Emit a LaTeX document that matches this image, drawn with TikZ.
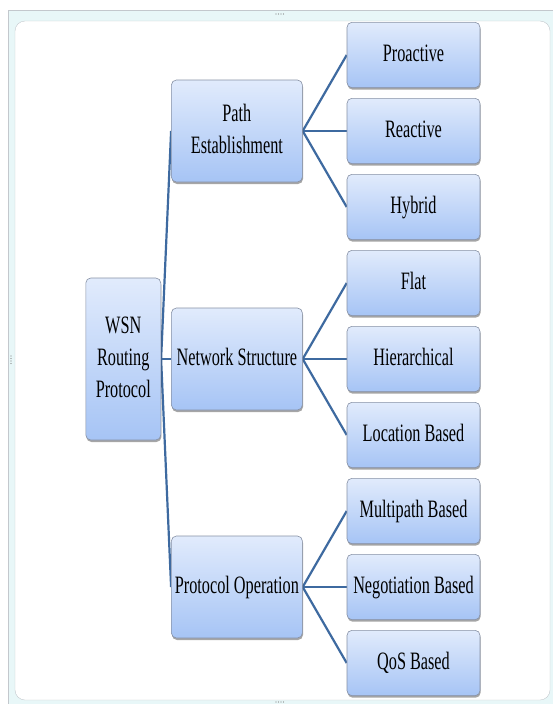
\documentclass[tikz,border=0pt]{standalone}
\usepackage{fontspec}
\setmainfont{Liberation Serif}
\usepackage{graphicx}
\usepackage{xcolor}
\usetikzlibrary{positioning,shadows,backgrounds}

\definecolor{boxtop}{RGB}{225,235,252}
\definecolor{boxbottom}{RGB}{166,196,245}
\definecolor{boxline}{RGB}{135,145,165}
\definecolor{linkblue}{RGB}{62,106,160}
\definecolor{framecyan}{RGB}{232,247,248}
\definecolor{framegray}{RGB}{195,200,205}

\newcommand{\narrow}[1]{\scalebox{0.65}[1]{\begin{tabular}{@{}c@{}}#1\end{tabular}}}

\tikzset{
  smartbox/.style={rectangle, rounded corners=5pt, draw=boxline, line width=0.6pt,
    top color=boxtop, bottom color=boxbottom, inner sep=1pt, align=center,
    drop shadow={shadow xshift=0.6pt, shadow yshift=-2pt, opacity=0.35, fill=black},
    font=\fontsize{25}{32}\selectfont},
  leaf/.style={smartbox, minimum width=133pt, minimum height=65.4pt},
  branch/.style={smartbox, minimum width=131pt, minimum height=102pt},
  root/.style={smartbox, minimum width=75pt, minimum height=162pt},
  link/.style={draw=linkblue, line width=2.2pt}
}

\begin{document}
\begin{tikzpicture}[x=1pt, y=-1pt]
  \useasboundingbox (0,0) rectangle (553,704);

  \node (proactive) [leaf] at (413.5,55) {\narrow{Proactive}};
  \node (reactive) [leaf, below=10pt of proactive] {\narrow{Reactive}};
  \node (hybrid) [leaf, below=10pt of reactive] {\narrow{Hybrid}};
  \node (flat) [leaf, below=10pt of hybrid] {\narrow{Flat}};
  \node (hierarchical) [leaf, below=10pt of flat] {\narrow{Hierarchical}};
  \node (location) [leaf, below=10pt of hierarchical] {\narrow{Location Based}};
  \node (multipath) [leaf, below=10pt of location] {\narrow{Multipath Based}};
  \node (negotiation) [leaf, below=10pt of multipath] {\narrow{Negotiation Based}};
  \node (qos) [leaf, below=10pt of negotiation] {\narrow{QoS Based}};

  \node (path) [branch, left=44pt of reactive] {\narrow{Path\\Establishment}};
  \node (network) [branch, left=44pt of hierarchical] {\narrow{Network Structure}};
  \node (operation) [branch, left=44pt of negotiation] {\narrow{Protocol Operation}};

  \node (wsn) [root, left=10pt of network] {\narrow{WSN\\Routing\\Protocol}};

  \begin{pgfonlayer}{background}
    % frame
    \fill[framecyan] (8,10) rectangle (560,710);
    \draw[framegray] (8,710) -- (8,10.5) -- (560,10.5);
    \draw[framegray, fill=white, rounded corners=10pt] (15,21) rectangle (550,700);
    \foreach \i in {0,...,3} {
      \fill[gray] (276+2.5*\i,14) circle (0.6);
      \fill[gray] (276+2.5*\i,702) circle (0.6);
      \fill[gray] (11,356+2.5*\i) circle (0.6);
    }

    \foreach \kid in {path,network,operation}
      \draw[link] (wsn.east) -- (\kid.west);
    \foreach \kid in {proactive,reactive,hybrid}
      \draw[link] (path.east) -- (\kid.west);
    \foreach \kid in {flat,hierarchical,location}
      \draw[link] (network.east) -- (\kid.west);
    \foreach \kid in {multipath,negotiation,qos}
      \draw[link] (operation.east) -- (\kid.west);
  \end{pgfonlayer}
\end{tikzpicture}
\end{document}
